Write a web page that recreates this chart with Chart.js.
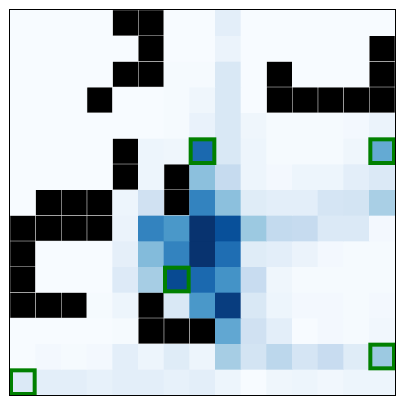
<!DOCTYPE html>
<html>
<head>
<meta charset="utf-8">
<script src="https://cdn.jsdelivr.net/npm/chart.js@4/dist/chart.umd.min.js"></script>
<style>
  html, body { margin: 0; padding: 0; background: #fff; }
  #wrap { width: 405px; height: 405px; }
</style>
</head>
<body>
<div id="wrap"><canvas id="heat"></canvas></div>
<script>
// column / row labels of the grid
var cols = ['0','1','2','3','4','5','6','7','8','9','10','11','12','13','14'];
var rows = ['0','1','2','3','4','5','6','7','8','9','10','11','12','13','14'];
var N = null; // masked cell (drawn black)

// one array per row, values 0..1
var row0  = [0, 0, 0, 0, N, N, 0, 0, 0.10, 0, 0, 0, 0, 0, 0];
var row1  = [0, 0, 0, 0, 0, N, 0, 0, 0.06, 0, 0, 0, 0, 0, N];
var row2  = [0, 0, 0, 0, N, N, 0.01, 0.01, 0.15, 0, N, 0, 0, 0, N];
var row3  = [0, 0, 0, N, 0, 0, 0.01, 0.04, 0.15, 0, N, N, N, N, N];
var row4  = [0, 0, 0, 0, 0, 0, 0.01, 0.07, 0.15, 0.04, 0.01, 0.01, 0.01, 0.02, 0.06];
var row5  = [0, 0, 0, 0, N, 0.05, 0.04, 0.78, 0.15, 0.05, 0.01, 0.01, 0.01, 0.04, 0.52];
var row6  = [0, 0, 0, 0, N, 0.05, N, 0.42, 0.25, 0.05, 0.02, 0.05, 0.05, 0.10, 0.14];
var row7  = [0, N, N, N, 0.05, 0.20, N, 0.68, 0.42, 0.12, 0.10, 0.10, 0.17, 0.18, 0.34];
var row8  = [N, N, N, N, 0.06, 0.68, 0.60, 0.99, 0.88, 0.38, 0.26, 0.25, 0.14, 0.14, 0.02];
var row9  = [N, 0, 0, 0, 0.09, 0.44, 0.68, 0.99, 0.76, 0.12, 0.10, 0.06, 0.02, 0.01, 0.01];
var row10 = [N, 0, 0, 0, 0.13, 0.35, 0.90, 0.78, 0.62, 0.24, 0.04, 0.01, 0.01, 0.01, 0.01];
var row11 = [N, N, N, 0.01, 0.05, N, 0.15, 0.60, 0.95, 0.15, 0.05, 0.02, 0.02, 0.01, 0.02];
var row12 = [0, 0, 0, 0, 0.01, N, N, N, 0.53, 0.20, 0.10, 0, 0.02, 0.01, 0.03];
var row13 = [0, 0.02, 0.01, 0.02, 0.10, 0.05, 0.12, 0.05, 0.35, 0.18, 0.28, 0.17, 0.24, 0.12, 0.38];
var row14 = [0.14, 0.10, 0.10, 0.08, 0.10, 0.10, 0.08, 0.10, 0.05, 0, 0.04, 0.05, 0.03, 0.05, 0.05];
var grid = [row0,row1,row2,row3,row4,row5,row6,row7,row8,row9,row10,row11,row12,row13,row14];

// highlighted cells [row, col]
var marked = [[5,7],[5,14],[10,6],[13,14],[14,0]];

// matplotlib "Blues"
var blues = [[247,251,255],[222,235,247],[198,219,239],[158,202,225],[107,174,214],
             [66,146,198],[33,113,181],[8,81,156],[8,48,107]];
function blue(v) {
  if (v === null) return '#000000';
  var t = Math.max(0, Math.min(1, v)) * (blues.length - 1);
  var i = Math.min(Math.floor(t), blues.length - 2), f = t - i;
  var a = blues[i], b = blues[i+1];
  return 'rgb(' + [0,1,2].map(function(k){ return Math.round(a[k] + (b[k]-a[k])*f); }).join(',') + ')';
}

var datasets = grid.map(function(r, ri) {
  return {
    label: rows[ri],
    data: cols.map(function(){ return 1; }),
    backgroundColor: r.map(blue),
    borderColor: r.map(function(v){ return v === null ? '#cfcfcf' : 'rgba(0,0,0,0)'; }),
    borderWidth: r.map(function(v){ return v === null ? 0.6 : 0; }),
    borderSkipped: false,
    barPercentage: 1,
    categoryPercentage: 1
  };
});

var frame = {
  id: 'frame',
  afterDatasetsDraw: function(chart) {
    var ctx = chart.ctx, xs = chart.scales.x, ys = chart.scales.y;
    var w = xs.getPixelForValue(1) - xs.getPixelForValue(0);
    ctx.save();
    ctx.strokeStyle = '#008000';
    ctx.lineWidth = 4;
    marked.forEach(function(m) {
      var x0 = xs.getPixelForValue(m[1]) - w / 2;
      var y0 = ys.getPixelForValue(m[0]);
      var y1 = ys.getPixelForValue(m[0] + 1);
      ctx.strokeRect(x0 + 1, y0 + 1, w - 2, y1 - y0 - 2);
    });
    var a = chart.chartArea;
    ctx.strokeStyle = '#000';
    ctx.lineWidth = 1;
    ctx.strokeRect(a.left - 0.5, a.top - 0.5, a.right - a.left + 1, a.bottom - a.top + 1);
    ctx.restore();
  }
};

new Chart(document.getElementById('heat'), {
  type: 'bar',
  data: { labels: cols, datasets: datasets },
  options: {
    responsive: true,
    maintainAspectRatio: false,
    animation: false,
    layout: { padding: { left: 10, right: 10, top: 10, bottom: 10 } },
    plugins: { legend: { display: false }, tooltip: { enabled: false } },
    scales: {
      x: { stacked: true, display: false },
      y: { stacked: true, display: false, reverse: true, min: 0, max: rows.length }
    }
  },
  plugins: [frame]
});
</script>
</body>
</html>
